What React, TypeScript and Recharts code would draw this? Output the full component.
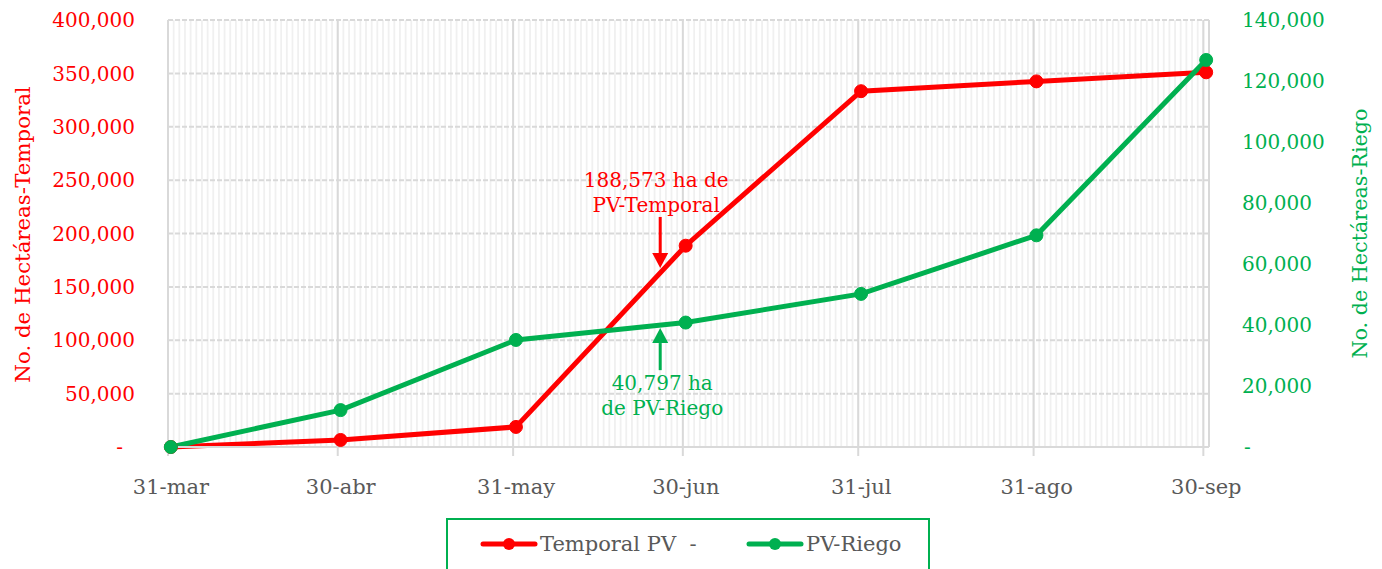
import React from 'react';
import { LineChart, Line, XAxis, YAxis, CartesianGrid, Legend, ReferenceLine } from 'recharts';

// ---- data ----
const categories = ['31-mar', '30-abr', '31-may', '30-jun', '31-jul', '31-ago', '30-sep'];
const dayIndex = [0, 30, 61, 91, 122, 153, 183];
const temporalValues = [0, 6600, 18800, 188573, 333300, 342500, 351000];
const riegoValues = [0, 12100, 35100, 40797, 50200, 69400, 126900];
const leftTicks = [0, 50000, 100000, 150000, 200000, 250000, 300000, 350000, 400000];
const rightTicks = [0, 20000, 40000, 60000, 80000, 100000, 120000, 140000];
const seriesOrder = ['temporal', 'riego'];
const totalDays = 184;

// annotations (data coords)
const temporalNoteDay = 86.5;
const temporalNoteFrom = 215500;
const temporalNoteTo = 167700;
const temporalNoteLines = ['188,573 ha de', 'PV-Temporal'];
const riegoNoteDay = 86.5;
const riegoNoteFrom = 25200;
const riegoNoteTo = 39000;
const riegoNoteLines = ['40,797 ha', 'de PV-Riego'];

const data = dayIndex.map((d, i) => ({ day: d, temporal: temporalValues[i], riego: riegoValues[i] }));
const majorTicks = dayIndex.map((d) => d - 0.5);
const minorValues = Array.from({ length: totalDays + 1 }, (_, k) => k - 0.5);

const RED = '#ff0000';
const GREEN = '#00b050';
const GRAY_TEXT = '#595959';
const FONT = "'DejaVu Serif', serif";
const FS = 20;
const FS2 = 21;

const fmt = (v: number) => v.toLocaleString('en-US');

const LeftTick = (props: any) => {
  const { x, y, payload } = props;
  const zero = payload.value === 0;
  return (
    <text x={zero ? x - 12 : x} y={y} dy="0.36em" textAnchor="end" fill={RED} fontSize={FS} fontFamily={FONT}>
      {zero ? '-' : fmt(payload.value)}
    </text>
  );
};

const RightTick = (props: any) => {
  const { x, y, payload } = props;
  const zero = payload.value === 0;
  return (
    <text x={zero ? x + 2 : x} y={y} dy="0.36em" textAnchor="start" fill={GREEN} fontSize={FS} fontFamily={FONT}>
      {zero ? '-' : fmt(payload.value)}
    </text>
  );
};

const XTick = (props: any) => {
  const { x, y, index } = props;
  return (
    <text x={x + 3} y={y + 38} textAnchor="middle" fill={GRAY_TEXT} fontSize={FS2} fontFamily={FONT}>
      {categories[index] ?? ''}
    </text>
  );
};

const makeArrow = (color: string, lines: string[], textBelow: boolean, textDx: number) => (props: any) => {
  const { x1, y1, x2, y2 } = props;
  const dir = y2 > y1 ? 1 : -1;
  const head = 15;
  const half = 8;
  const baseY = y2 - dir * head;
  return (
    <g>
      <line x1={x1} y1={y1} x2={x2} y2={baseY} stroke={color} strokeWidth={3} />
      <polygon points={`${x2},${y2} ${x2 - half},${baseY} ${x2 + half},${baseY}`} fill={color} />
      {lines.map((t, i) => (
        <text
          key={i}
          x={x1 + textDx}
          y={textBelow ? y1 + 20 + i * 25 : y1 - 5 - (lines.length - 1 - i) * 25}
          textAnchor="middle"
          fill={color}
          fontSize={FS}
          fontFamily={FONT}
        >
          {t}
        </text>
      ))}
    </g>
  );
};

const CustomLegend = (props: any) => {
  const payload = [...(props.payload || [])].sort(
    (a: any, b: any) => seriesOrder.indexOf(a.dataKey) - seriesOrder.indexOf(b.dataKey)
  );
  const positions = [32, 298];
  return (
    <div
      style={{
        position: 'relative',
        width: 484,
        height: 51,
        boxSizing: 'border-box',
        borderTop: `2px solid ${GREEN}`,
        borderLeft: `2px solid ${GREEN}`,
        borderRight: `2px solid ${GREEN}`,
      }}
    >
      {payload.map((p: any, i: number) => (
        <div
          key={i}
          style={{ position: 'absolute', left: positions[i], top: 9, display: 'flex', alignItems: 'center', height: 30 }}
        >
          <svg width={58} height={16} style={{ display: 'block' }}>
            <line x1={3} y1={8} x2={55} y2={8} stroke={p.color} strokeWidth={5} strokeLinecap="round" />
            <circle cx={29} cy={8} r={6} fill={p.color} />
          </svg>
          <span
            style={{
              whiteSpace: 'pre',
              marginLeft: 2,
              color: GRAY_TEXT,
              fontFamily: FONT,
              fontSize: FS2,
              lineHeight: '30px',
            }}
          >
            {p.value}
          </span>
        </div>
      ))}
    </div>
  );
};

const LeftTitle = (props: any) => {
  const { viewBox } = props;
  const cx = viewBox.x + 22;
  const cy = viewBox.y + viewBox.height / 2 + 1;
  return (
    <text x={cx} y={cy} transform={`rotate(-90, ${cx}, ${cy})`} textAnchor="middle" dominantBaseline="central" fill={RED} fontSize={21.3} fontFamily={FONT}>
      No. de Hectáreas-Temporal
    </text>
  );
};

const RightTitle = (props: any) => {
  const { viewBox } = props;
  const cx = viewBox.x + 151;
  const cy = viewBox.y + viewBox.height / 2;
  return (
    <text x={cx} y={cy} transform={`rotate(-90, ${cx}, ${cy})`} textAnchor="middle" dominantBaseline="central" fill={GREEN} fontSize={20.7} fontFamily={FONT}>
      No. de Hectáreas-Riego
    </text>
  );
};

export default function App() {
  return (
    <div style={{ width: 1382, height: 569, overflow: 'hidden', position: 'relative', background: '#fff' }}>
      <style>{`body{margin:0;}`}</style>
      <LineChart width={1382} height={569} data={data} margin={{ top: 20, right: 0, left: 0, bottom: 0 }}>
        <CartesianGrid
          yAxisId="left"
          horizontal={false}
          vertical
          verticalValues={minorValues}
          stroke="#f0f0f0"
          strokeWidth={1.8}
        />
        <CartesianGrid yAxisId="left" vertical={false} stroke="#d9d9d9" strokeWidth={2} strokeDasharray="5 2" />
        <CartesianGrid yAxisId="left" horizontal={false} stroke="#d9d9d9" strokeWidth={2} />
        <XAxis
          dataKey="day"
          type="number"
          domain={[-0.5, totalDays - 0.5]}
          ticks={majorTicks}
          interval={0}
          height={71}
          stroke="#d9d9d9"
          axisLine={{ stroke: '#d9d9d9', strokeWidth: 2 }}
          tickLine={{ stroke: '#d9d9d9', strokeWidth: 2 }}
          tickSize={9}
          tickMargin={0}
          tick={<XTick />}
        />
        <YAxis
          yAxisId="left"
          orientation="left"
          width={168}
          domain={[0, 400000]}
          ticks={leftTicks}
          interval={0}
          axisLine={false}
          tickLine={false}
          tickSize={0}
          tickMargin={33}
          tick={<LeftTick />}
          label={<LeftTitle />}
        />
        <YAxis
          yAxisId="right"
          orientation="right"
          width={173}
          domain={[0, 140000]}
          ticks={rightTicks}
          interval={0}
          axisLine={false}
          tickLine={false}
          tickSize={0}
          tickMargin={33}
          tick={<RightTick />}
          label={<RightTitle />}
        />
        <Legend
          verticalAlign="bottom"
          align="left"
          wrapperStyle={{ left: 446, bottom: 0, width: 484, height: 51 }}
          content={<CustomLegend />}
        />
        <Line
          yAxisId="left"
          type="linear"
          dataKey="temporal"
          name="Temporal PV  -"
          stroke={RED}
          strokeWidth={5}
          dot={{ r: 6.5, fill: RED, stroke: RED, strokeWidth: 1 }}
          activeDot={false}
          isAnimationActive={false}
        />
        <Line
          yAxisId="right"
          type="linear"
          dataKey="riego"
          name="PV-Riego"
          stroke={GREEN}
          strokeWidth={5}
          dot={{ r: 6.5, fill: GREEN, stroke: GREEN, strokeWidth: 1 }}
          activeDot={false}
          isAnimationActive={false}
        />
        <ReferenceLine
          yAxisId="left"
          segment={[
            { x: temporalNoteDay, y: temporalNoteFrom },
            { x: temporalNoteDay, y: temporalNoteTo },
          ]}
          shape={makeArrow(RED, temporalNoteLines, false, -4)}
        />
        <ReferenceLine
          yAxisId="right"
          segment={[
            { x: riegoNoteDay, y: riegoNoteFrom },
            { x: riegoNoteDay, y: riegoNoteTo },
          ]}
          shape={makeArrow(GREEN, riegoNoteLines, true, 2)}
        />
      </LineChart>
    </div>
  );
}
